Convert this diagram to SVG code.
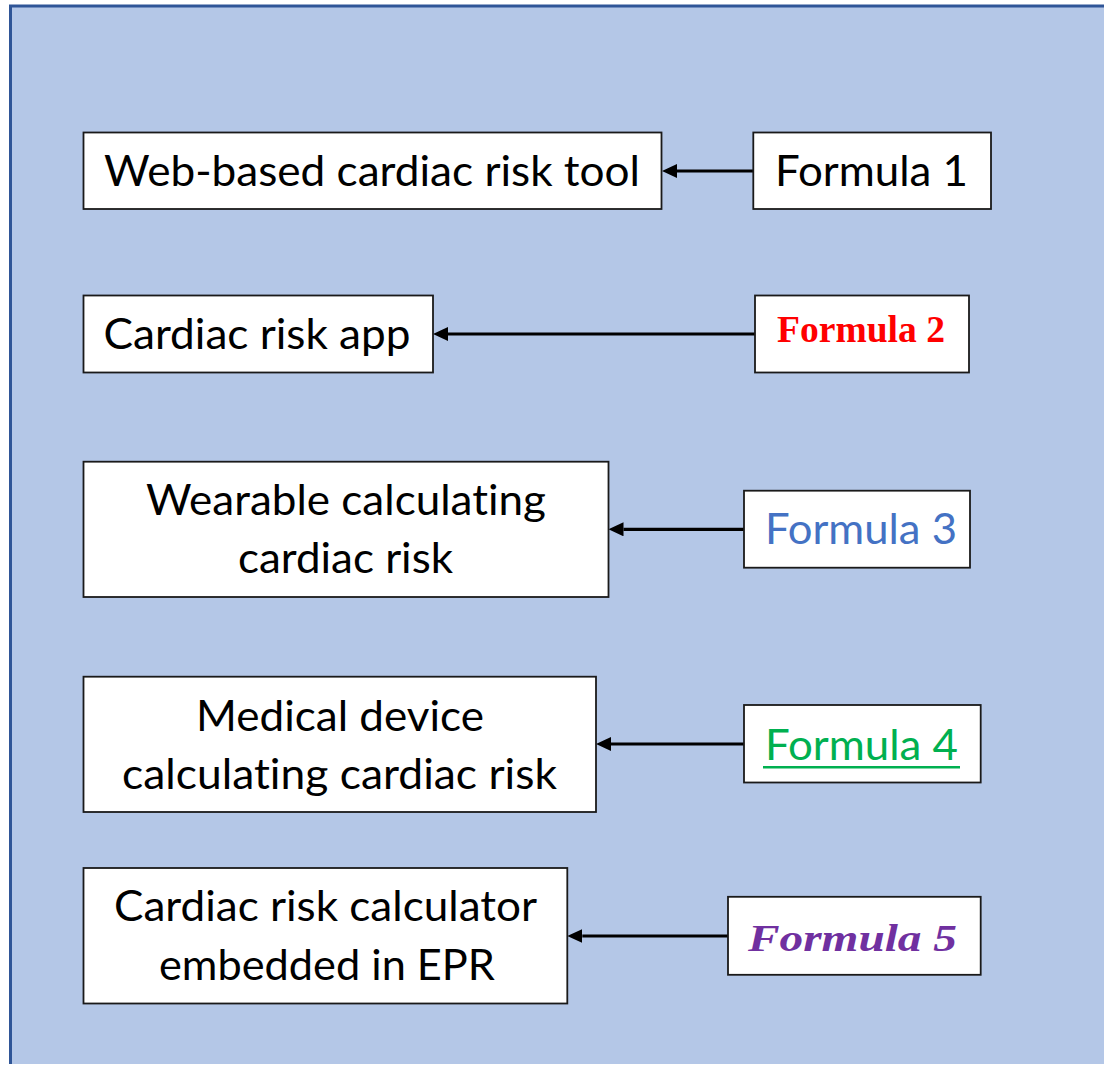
<svg xmlns="http://www.w3.org/2000/svg" width="1104" height="1066" viewBox="0 0 1104 1066">
  <style>
    .box { fill: #ffffff; stroke: #1a1a1a; stroke-width: 1.8; }
    .lbl { font-family: Lato, "Open Sans", "Liberation Sans", sans-serif; font-size: 43px; fill: #000000; text-anchor: middle; font-variant-ligatures: none; font-feature-settings: "liga" 0, "clig" 0, "dlig" 0, "calt" 0; }
    .link { stroke: #000000; stroke-width: 3.2; fill: none; marker-end: url(#head); }
  </style>
  <defs>
    <marker id="head" viewBox="0 0 15 14" refX="0" refY="7" markerWidth="15" markerHeight="14" markerUnits="userSpaceOnUse" orient="auto">
      <path d="M0,0 L15,7 L0,14 z" fill="#000000"/>
    </marker>
  </defs>

  <!-- backdrop panel -->
  <g id="panel">
    <rect x="10.5" y="6" width="1100" height="1058" fill="#B4C7E7"/>
    <path d="M10.5,1064 L10.5,6 L1104,6" fill="none" stroke="#2F5597" stroke-width="3"/>
  </g>

  <!-- connectors -->
  <g id="connectors">
    <line class="link" x1="753" y1="171" x2="677" y2="171"/>
    <line class="link" x1="755" y1="334" x2="448" y2="334"/>
    <line class="link" x1="744" y1="529.3" x2="623.5" y2="529.3"/>
    <line class="link" x1="744" y1="744" x2="611" y2="744"/>
    <line class="link" x1="728" y1="936" x2="582.3" y2="936"/>
  </g>

  <!-- row 1 -->
  <g id="web-tool">
    <rect class="box" x="83.5" y="132.5" width="578" height="76.5"/>
    <text class="lbl" x="372" y="186" textLength="536" lengthAdjust="spacingAndGlyphs">Web-based cardiac risk tool</text>
  </g>
  <g id="formula-1">
    <rect class="box" x="753.3" y="132.5" width="237.7" height="76.5"/>
    <text class="lbl" x="871.5" y="186" textLength="193" lengthAdjust="spacingAndGlyphs">Formula 1</text>
  </g>

  <!-- row 2 -->
  <g id="risk-app">
    <rect class="box" x="83.5" y="295.5" width="349.5" height="77"/>
    <text class="lbl" x="257" y="349" textLength="307" lengthAdjust="spacingAndGlyphs">Cardiac risk app</text>
  </g>
  <g id="formula-2">
    <rect class="box" x="755" y="295.5" width="214" height="77"/>
    <text x="861" y="342" text-anchor="middle" font-family="'Liberation Serif', 'Times New Roman', serif" font-weight="bold" font-size="38.5" fill="#FF0000" textLength="168" lengthAdjust="spacingAndGlyphs">Formula 2</text>
  </g>

  <!-- row 3 -->
  <g id="wearable">
    <rect class="box" x="83.5" y="461.7" width="525" height="135.3"/>
    <text class="lbl" x="346" y="514.5" textLength="400" lengthAdjust="spacingAndGlyphs">Wearable calculating</text>
    <text class="lbl" x="345.5" y="573" textLength="215" lengthAdjust="spacingAndGlyphs">cardiac risk</text>
  </g>
  <g id="formula-3">
    <rect class="box" x="744" y="490.7" width="226" height="77"/>
    <text class="lbl" x="861" y="544.4" style="fill:#4472C4" textLength="192" lengthAdjust="spacingAndGlyphs">Formula 3</text>
  </g>

  <!-- row 4 -->
  <g id="medical-device">
    <rect class="box" x="83.5" y="676.7" width="512.5" height="135.3"/>
    <text class="lbl" x="340" y="730.5" textLength="288" lengthAdjust="spacingAndGlyphs">Medical device</text>
    <text class="lbl" x="339.5" y="788.5" textLength="435" lengthAdjust="spacingAndGlyphs">calculating cardiac risk</text>
  </g>
  <g id="formula-4">
    <rect class="box" x="744" y="705" width="236.7" height="77.5"/>
    <text class="lbl" x="861.5" y="759.5" style="fill:#00B050" textLength="193" lengthAdjust="spacingAndGlyphs">Formula 4</text>
    <line x1="763" y1="767.3" x2="960" y2="767.3" stroke="#00B050" stroke-width="2.6"/>
  </g>

  <!-- row 5 -->
  <g id="epr-calculator">
    <rect class="box" x="83.5" y="868" width="483.8" height="135.5"/>
    <text class="lbl" x="325.5" y="921" textLength="423" lengthAdjust="spacingAndGlyphs">Cardiac risk calculator</text>
    <text class="lbl" x="327" y="980" textLength="336" lengthAdjust="spacingAndGlyphs">embedded in EPR</text>
  </g>
  <g id="formula-5">
    <rect class="box" x="728" y="896.8" width="252.7" height="78"/>
    <text x="852.5" y="951" text-anchor="middle" font-family="'Liberation Serif', 'DejaVu Serif', serif" font-style="italic" font-weight="bold" font-size="38" fill="#7030A0" textLength="209" lengthAdjust="spacingAndGlyphs">Formula 5</text>
  </g>
</svg>
